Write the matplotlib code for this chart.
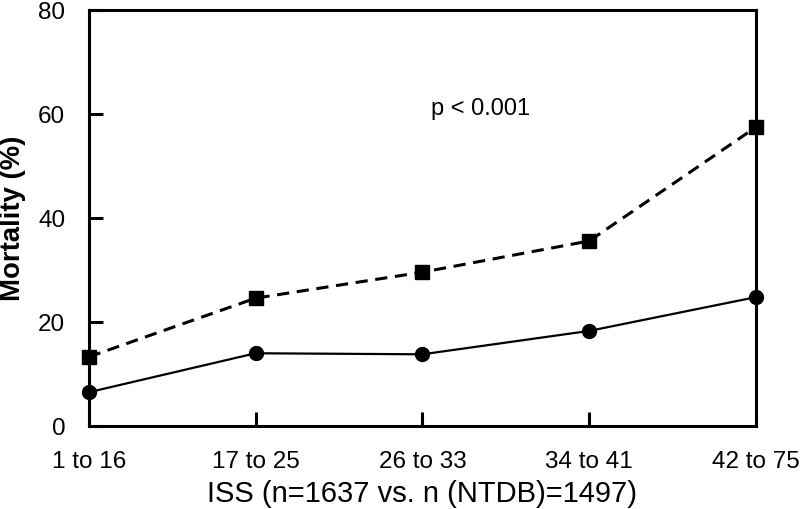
import numpy as np
import matplotlib.pyplot as plt

plt.rcParams['font.family'] = ['Liberation Sans', 'DejaVu Sans']

categories = ['1 to 16', '17 to 25', '26 to 33', '34 to 41', '42 to 75']
mortality_ntdb = [13.3, 24.6, 29.6, 35.6, 57.5]
mortality_study = [6.5, 14.0, 13.8, 18.3, 24.8]

fig = plt.figure(figsize=(8, 5.09), dpi=100)
ax = fig.add_axes([0.111, 0.163, 0.834, 0.817])

x = np.arange(len(categories))
ax.plot(x, mortality_ntdb, color='black', linestyle=(0, (4, 2.5)), linewidth=2.2,
        marker='s', markersize=10, clip_on=False, zorder=3)
ax.plot(x, mortality_study, color='black', linestyle='-', linewidth=1.6,
        marker='o', markersize=10, clip_on=False, zorder=3)

ax.set_xlim(0, len(categories) - 1)
ax.set_ylim(0, 80)
ax.set_xticks(x)
ax.set_xticklabels(categories)
ax.set_yticks([0, 20, 40, 60, 80])

for s in ax.spines.values():
    s.set_linewidth(2.2)
ax.tick_params(direction='in', length=10, width=2.2, labelsize=17.5)
ax.tick_params(axis='x', pad=18)
ax.tick_params(axis='y', pad=17)

ax.set_xlabel('ISS (n=1637 vs. n (NTDB)=1497)', fontsize=21, labelpad=5)
ax.set_ylabel('Mortality (%)', fontsize=19.8, fontweight='bold')
ax.yaxis.set_label_coords(-0.094, 0.5)

ax.text(2.35, 61, 'p < 0.001', fontsize=17, ha='center', va='center')

fig.savefig('out.png', dpi=100)
